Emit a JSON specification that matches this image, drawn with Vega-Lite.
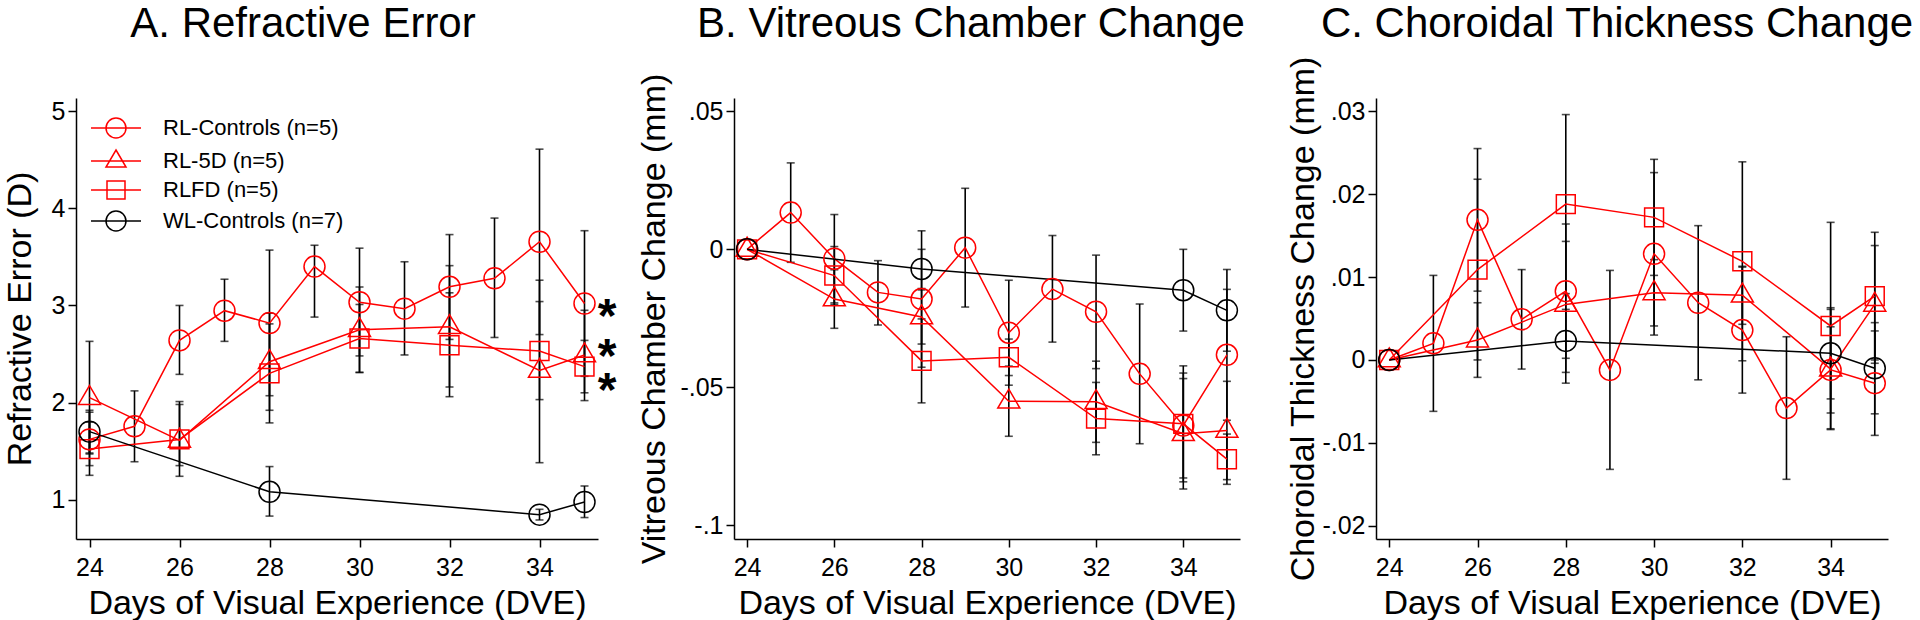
{
  "$schema": "https://vega.github.io/schema/vega-lite/v6.json",
  "background": "white",
  "padding": {"left": 3, "top": 2, "right": 8, "bottom": 0},
  "bounds": "flush",
  "spacing": 136,
  "config": {
    "view": {"stroke": null},
    "font": "Liberation Sans",
    "axis": {"grid": false, "domainColor": "black", "domainWidth": 1.5, "tickColor": "black", "tickWidth": 1.5, "tickSize": 8, "labelFont": "Liberation Sans", "labelFontSize": 25, "labelColor": "black", "labelPadding": 3, "labelFlush": false, "labelOverlap": false, "titleFont": "Liberation Sans", "titleFontSize": 34, "titleFontWeight": "normal", "titleColor": "black"},
    "axisX": {"labelPadding": 8, "titlePadding": 6},
    "title": {"font": "Liberation Sans", "fontSize": 42, "fontWeight": "normal", "color": "black", "anchor": "middle", "frame": "group"}
  },
  "datasets": {
    "A": [
      {"group": "RL-Controls (n=5)", "day": 24, "value": 1.62, "lo": 1.35, "hi": 1.90},
      {"group": "RL-Controls (n=5)", "day": 25, "value": 1.755, "lo": 1.39, "hi": 2.12},
      {"group": "RL-Controls (n=5)", "day": 26, "value": 2.64, "lo": 2.29, "hi": 3.0},
      {"group": "RL-Controls (n=5)", "day": 27, "value": 2.946, "lo": 2.63, "hi": 3.27},
      {"group": "RL-Controls (n=5)", "day": 28, "value": 2.818, "lo": 2.07, "hi": 3.57},
      {"group": "RL-Controls (n=5)", "day": 29, "value": 3.40, "lo": 2.88, "hi": 3.62},
      {"group": "RL-Controls (n=5)", "day": 30, "value": 3.033, "lo": 2.48, "hi": 3.59},
      {"group": "RL-Controls (n=5)", "day": 31, "value": 2.967, "lo": 2.49, "hi": 3.45},
      {"group": "RL-Controls (n=5)", "day": 32, "value": 3.192, "lo": 2.65, "hi": 3.73},
      {"group": "RL-Controls (n=5)", "day": 33, "value": 3.279, "lo": 2.67, "hi": 3.90},
      {"group": "RL-Controls (n=5)", "day": 34, "value": 3.656, "lo": 2.70, "hi": 4.61},
      {"group": "RL-Controls (n=5)", "day": 35, "value": 3.02, "lo": 2.27, "hi": 3.77},
      {"group": "RL-5D (n=5)", "day": 24, "value": 2.05, "lo": 1.47, "hi": 2.63},
      {"group": "RL-5D (n=5)", "day": 26, "value": 1.61, "lo": 1.24, "hi": 1.98},
      {"group": "RL-5D (n=5)", "day": 28, "value": 2.42, "lo": 1.92, "hi": 2.92},
      {"group": "RL-5D (n=5)", "day": 30, "value": 2.75, "lo": 2.31, "hi": 3.19},
      {"group": "RL-5D (n=5)", "day": 32, "value": 2.78, "lo": 2.16, "hi": 3.41},
      {"group": "RL-5D (n=5)", "day": 34, "value": 2.33, "lo": 1.38, "hi": 3.26},
      {"group": "RL-5D (n=5)", "day": 35, "value": 2.49, "lo": 2.02, "hi": 2.95},
      {"group": "RLFD (n=5)", "day": 24, "value": 1.52, "lo": 1.25, "hi": 1.80},
      {"group": "RLFD (n=5)", "day": 26, "value": 1.62, "lo": 1.35, "hi": 2.01},
      {"group": "RLFD (n=5)", "day": 28, "value": 2.30, "lo": 1.79, "hi": 2.81},
      {"group": "RLFD (n=5)", "day": 30, "value": 2.66, "lo": 2.31, "hi": 3.01},
      {"group": "RLFD (n=5)", "day": 32, "value": 2.59, "lo": 2.06, "hi": 3.13},
      {"group": "RLFD (n=5)", "day": 34, "value": 2.53, "lo": 2.03, "hi": 3.04},
      {"group": "RLFD (n=5)", "day": 35, "value": 2.37, "lo": 2.10, "hi": 2.64},
      {"group": "WL-Controls (n=7)", "day": 24, "value": 1.70, "lo": 1.48, "hi": 1.92},
      {"group": "WL-Controls (n=7)", "day": 28, "value": 1.08, "lo": 0.83, "hi": 1.34},
      {"group": "WL-Controls (n=7)", "day": 34, "value": 0.845, "lo": 0.79, "hi": 0.90},
      {"group": "WL-Controls (n=7)", "day": 35, "value": 0.975, "lo": 0.815, "hi": 1.14}
    ],
    "B": [
      {"group": "RL-Controls (n=5)", "day": 24, "value": 0, "lo": null, "hi": null},
      {"group": "RL-Controls (n=5)", "day": 25, "value": 0.0133, "lo": -0.0047, "hi": 0.0313},
      {"group": "RL-Controls (n=5)", "day": 26, "value": -0.0034, "lo": -0.0194, "hi": 0.0126},
      {"group": "RL-Controls (n=5)", "day": 27, "value": -0.0156, "lo": -0.0274, "hi": -0.0041},
      {"group": "RL-Controls (n=5)", "day": 28, "value": -0.018, "lo": -0.0427, "hi": 0.0067},
      {"group": "RL-Controls (n=5)", "day": 29, "value": 0.0006, "lo": -0.0209, "hi": 0.0221},
      {"group": "RL-Controls (n=5)", "day": 30, "value": -0.0302, "lo": -0.0492, "hi": -0.0112},
      {"group": "RL-Controls (n=5)", "day": 31, "value": -0.0144, "lo": -0.0336, "hi": 0.0050},
      {"group": "RL-Controls (n=5)", "day": 32, "value": -0.0226, "lo": -0.0432, "hi": -0.0021},
      {"group": "RL-Controls (n=5)", "day": 33, "value": -0.0451, "lo": -0.0704, "hi": -0.0198},
      {"group": "RL-Controls (n=5)", "day": 34, "value": -0.0638, "lo": -0.0828, "hi": -0.0448},
      {"group": "RL-Controls (n=5)", "day": 35, "value": -0.0382, "lo": -0.0619, "hi": -0.0145},
      {"group": "RL-5D (n=5)", "day": 24, "value": 0, "lo": null, "hi": null},
      {"group": "RL-5D (n=5)", "day": 26, "value": -0.018, "lo": -0.0286, "hi": -0.0074},
      {"group": "RL-5D (n=5)", "day": 28, "value": -0.0245, "lo": -0.0343, "hi": -0.0147},
      {"group": "RL-5D (n=5)", "day": 30, "value": -0.055, "lo": -0.0677, "hi": -0.0423},
      {"group": "RL-5D (n=5)", "day": 32, "value": -0.0552, "lo": -0.0699, "hi": -0.0405},
      {"group": "RL-5D (n=5)", "day": 34, "value": -0.0668, "lo": -0.0868, "hi": -0.0468},
      {"group": "RL-5D (n=5)", "day": 35, "value": -0.0656, "lo": -0.0834, "hi": -0.0478},
      {"group": "RLFD (n=5)", "day": 24, "value": 0, "lo": null, "hi": null},
      {"group": "RLFD (n=5)", "day": 26, "value": -0.0095, "lo": -0.0200, "hi": 0.0010},
      {"group": "RLFD (n=5)", "day": 28, "value": -0.0404, "lo": -0.0556, "hi": -0.0252},
      {"group": "RLFD (n=5)", "day": 30, "value": -0.0391, "lo": -0.0457, "hi": -0.0325},
      {"group": "RLFD (n=5)", "day": 32, "value": -0.0613, "lo": -0.0744, "hi": -0.0482},
      {"group": "RLFD (n=5)", "day": 34, "value": -0.0632, "lo": -0.0842, "hi": -0.0422},
      {"group": "RLFD (n=5)", "day": 35, "value": -0.076, "lo": -0.0851, "hi": -0.0669},
      {"group": "WL-Controls (n=7)", "day": 24, "value": 0, "lo": null, "hi": null},
      {"group": "WL-Controls (n=7)", "day": 28, "value": -0.0071, "lo": -0.0142, "hi": 0.0},
      {"group": "WL-Controls (n=7)", "day": 34, "value": -0.0148, "lo": -0.0296, "hi": 0.0},
      {"group": "WL-Controls (n=7)", "day": 35, "value": -0.0221, "lo": -0.0369, "hi": -0.0073}
    ],
    "C": [
      {"group": "RL-Controls (n=5)", "day": 24, "value": 0, "lo": null, "hi": null},
      {"group": "RL-Controls (n=5)", "day": 25, "value": 0.0020, "lo": -0.0062, "hi": 0.0102},
      {"group": "RL-Controls (n=5)", "day": 26, "value": 0.0169, "lo": 0.0083, "hi": 0.0255},
      {"group": "RL-Controls (n=5)", "day": 27, "value": 0.0049, "lo": -0.0011, "hi": 0.0109},
      {"group": "RL-Controls (n=5)", "day": 28, "value": 0.0083, "lo": 0.0002, "hi": 0.0164},
      {"group": "RL-Controls (n=5)", "day": 29, "value": -0.0012, "lo": -0.0132, "hi": 0.0108},
      {"group": "RL-Controls (n=5)", "day": 30, "value": 0.0128, "lo": 0.0030, "hi": 0.0226},
      {"group": "RL-Controls (n=5)", "day": 31, "value": 0.0069, "lo": -0.0024, "hi": 0.0162},
      {"group": "RL-Controls (n=5)", "day": 32, "value": 0.0036, "lo": -0.0040, "hi": 0.0112},
      {"group": "RL-Controls (n=5)", "day": 33, "value": -0.0058, "lo": -0.0144, "hi": 0.0028},
      {"group": "RL-Controls (n=5)", "day": 34, "value": -0.0012, "lo": -0.0064, "hi": 0.0040},
      {"group": "RL-Controls (n=5)", "day": 35, "value": -0.0028, "lo": -0.0091, "hi": 0.0035},
      {"group": "RL-5D (n=5)", "day": 24, "value": 0, "lo": null, "hi": null},
      {"group": "RL-5D (n=5)", "day": 26, "value": 0.0024, "lo": -0.0021, "hi": 0.0069},
      {"group": "RL-5D (n=5)", "day": 28, "value": 0.0067, "lo": -0.0028, "hi": 0.0143},
      {"group": "RL-5D (n=5)", "day": 30, "value": 0.0081, "lo": 0.0041, "hi": 0.0121},
      {"group": "RL-5D (n=5)", "day": 32, "value": 0.0078, "lo": 0.0043, "hi": 0.0113},
      {"group": "RL-5D (n=5)", "day": 34, "value": -0.0011, "lo": -0.0083, "hi": 0.0061},
      {"group": "RL-5D (n=5)", "day": 35, "value": 0.0067, "lo": -0.0004, "hi": 0.0138},
      {"group": "RLFD (n=5)", "day": 24, "value": 0, "lo": null, "hi": null},
      {"group": "RLFD (n=5)", "day": 26, "value": 0.0109, "lo": 0.0000, "hi": 0.0218},
      {"group": "RLFD (n=5)", "day": 28, "value": 0.0188, "lo": 0.0080, "hi": 0.0296},
      {"group": "RLFD (n=5)", "day": 30, "value": 0.0172, "lo": 0.0102, "hi": 0.0242},
      {"group": "RLFD (n=5)", "day": 32, "value": 0.0119, "lo": -0.0001, "hi": 0.0239},
      {"group": "RLFD (n=5)", "day": 34, "value": 0.0041, "lo": -0.0084, "hi": 0.0166},
      {"group": "RLFD (n=5)", "day": 35, "value": 0.0077, "lo": 0.0000, "hi": 0.0154},
      {"group": "WL-Controls (n=7)", "day": 24, "value": 0, "lo": null, "hi": null},
      {"group": "WL-Controls (n=7)", "day": 28, "value": 0.0023, "lo": -0.0015, "hi": 0.0061},
      {"group": "WL-Controls (n=7)", "day": 34, "value": 0.0008, "lo": -0.0047, "hi": 0.0063},
      {"group": "WL-Controls (n=7)", "day": 35, "value": -0.0010, "lo": -0.0065, "hi": 0.0045}
    ],
    "stars": [
      {"day": 35.5, "value": 3.01, "label": "*"},
      {"day": 35.5, "value": 2.6, "label": "*"},
      {"day": 35.5, "value": 2.25, "label": "*"}
    ]
  },
  "hconcat": [
    {
      "width": 522,
      "height": 441,
      "title": {"text": "A. Refractive Error", "dx": -34, "offset": 52},
      "resolve": {"scale": {"color": "independent", "shape": "independent"}},
      "layer": [
        {
          "data": {"name": "A"},
          "transform": [{"filter": "datum.lo != null"}],
          "mark": {"type": "errorbar", "color": "black", "thickness": 1.6, "ticks": {"size": 8}},
          "encoding": {
            "x": {"field": "day", "type": "quantitative", "scale": {"domain": [23.7, 35.3], "nice": false, "zero": false}, "axis": {"title": "Days of Visual Experience (DVE)", "values": [24, 26, 28, 30, 32, 34]}},
            "y": {"field": "lo", "type": "quantitative", "scale": {"domain": [0.594, 5.137], "nice": false, "zero": false}, "axis": {"title": "Refractive Error (D)", "values": [1, 2, 3, 4, 5], "titlePadding": 14}},
            "y2": {"field": "hi"}
          }
        },
        {
          "data": {"name": "A"},
          "mark": {"type": "line", "strokeWidth": 1.5},
          "encoding": {
            "x": {"field": "day", "type": "quantitative", "scale": {"domain": [23.7, 35.3], "nice": false, "zero": false}, "axis": {"title": "Days of Visual Experience (DVE)", "values": [24, 26, 28, 30, 32, 34]}},
            "y": {"field": "value", "type": "quantitative", "scale": {"domain": [0.594, 5.137], "nice": false, "zero": false}, "axis": {"title": "Refractive Error (D)", "values": [1, 2, 3, 4, 5], "titlePadding": 14}},
            "color": {"field": "group", "type": "nominal", "scale": {"domain": ["RL-Controls (n=5)", "RL-5D (n=5)", "RLFD (n=5)", "WL-Controls (n=7)"], "range": ["#ff0000", "#ff0000", "#ff0000", "#000000"]}, "legend": null}
          }
        },
        {
          "data": {"name": "A"},
          "mark": {"type": "point", "filled": false, "size": 441, "strokeWidth": 1.5, "opacity": 1},
          "encoding": {
            "x": {"field": "day", "type": "quantitative", "scale": {"domain": [23.7, 35.3], "nice": false, "zero": false}, "axis": {"title": "Days of Visual Experience (DVE)", "values": [24, 26, 28, 30, 32, 34]}},
            "y": {"field": "value", "type": "quantitative", "scale": {"domain": [0.594, 5.137], "nice": false, "zero": false}, "axis": {"title": "Refractive Error (D)", "values": [1, 2, 3, 4, 5], "titlePadding": 14}},
            "color": {"field": "group", "type": "nominal", "scale": {"domain": ["RL-Controls (n=5)", "RL-5D (n=5)", "RLFD (n=5)", "WL-Controls (n=7)"], "range": ["#ff0000", "#ff0000", "#ff0000", "#000000"]}, "legend": null},
            "shape": {"field": "group", "type": "nominal", "scale": {"domain": ["RL-Controls (n=5)", "RL-5D (n=5)", "RLFD (n=5)", "WL-Controls (n=7)"], "range": ["M1,0A1,1,0,1,1,-1,0A1,1,0,1,1,1,0Z", "M0,-1.15L1.05,0.65L-1.05,0.65Z", "M-0.9,-0.9L0.9,-0.9L0.9,0.9L-0.9,0.9Z", "M1,0A1,1,0,1,1,-1,0A1,1,0,1,1,1,0Z"]}, "legend": null}
          }
        },
        {
          "data": {"name": "A"},
          "transform": [{"filter": "false"}],
          "mark": {"type": "point", "filled": false, "strokeWidth": 1.5, "opacity": 1},
          "encoding": {
            "x": {"field": "day", "type": "quantitative", "scale": {"domain": [23.7, 35.3], "nice": false, "zero": false}, "axis": {"title": "Days of Visual Experience (DVE)", "values": [24, 26, 28, 30, 32, 34]}},
            "y": {"field": "value", "type": "quantitative", "scale": {"domain": [0.594, 5.137], "nice": false, "zero": false}, "axis": {"title": "Refractive Error (D)", "values": [1, 2, 3, 4, 5], "titlePadding": 14}},
            "color": {"field": "group", "type": "nominal", "scale": {"domain": ["RL-Controls (n=5)", "RL-5D (n=5)", "RLFD (n=5)", "WL-Controls (n=7)"], "range": ["#ff0000", "#ff0000", "#ff0000", "#000000"]}, "legend": {"title": null, "orient": "none", "legendX": 29, "legendY": 19, "padding": 0, "labelFont": "Liberation Sans", "labelFontSize": 22, "labelColor": "black", "labelLimit": 400, "labelOffset": 36, "symbolSize": 400, "symbolStrokeWidth": 1.5, "rowPadding": 6}},
            "shape": {"field": "group", "type": "nominal", "scale": {"domain": ["RL-Controls (n=5)", "RL-5D (n=5)", "RLFD (n=5)", "WL-Controls (n=7)"], "range": ["M-2.5,0L2.5,0M1,0A1,1,0,1,1,-1,0A1,1,0,1,1,1,0Z", "M-2.5,0L2.5,0M0,-1.1L1,0.6L-1,0.6Z", "M-2.5,0L2.5,0M-0.9,-0.9L0.9,-0.9L0.9,0.9L-0.9,0.9Z", "M-2.5,0L2.5,0M1,0A1,1,0,1,1,-1,0A1,1,0,1,1,1,0Z"]}, "legend": {"title": null, "orient": "none", "legendX": 29, "legendY": 19, "padding": 0, "labelFont": "Liberation Sans", "labelFontSize": 22, "labelColor": "black", "labelLimit": 400, "labelOffset": 36, "symbolSize": 400, "symbolStrokeWidth": 1.5, "rowPadding": 6}}
          }
        },
        {
          "data": {"name": "stars"},
          "mark": {"type": "text", "font": "Liberation Sans", "fontSize": 48, "fontWeight": "bold", "color": "black", "align": "center", "baseline": "alphabetic", "dy": 28},
          "encoding": {
            "x": {"field": "day", "type": "quantitative", "scale": {"domain": [23.7, 35.3], "nice": false, "zero": false}, "axis": {"title": "Days of Visual Experience (DVE)", "values": [24, 26, 28, 30, 32, 34]}},
            "y": {"field": "value", "type": "quantitative", "scale": {"domain": [0.594, 5.137], "nice": false, "zero": false}, "axis": {"title": "Refractive Error (D)", "values": [1, 2, 3, 4, 5], "titlePadding": 14}},
            "text": {"field": "label", "type": "nominal"}
          }
        }
      ]
    },
    {
      "width": 506,
      "height": 441,
      "title": {"text": "B. Vitreous Chamber Change", "dx": -16, "offset": 27},
      "data": {"name": "B"},
      "encoding": {
        "x": {"field": "day", "type": "quantitative", "scale": {"domain": [23.7, 35.3], "nice": false, "zero": false}, "axis": {"title": "Days of Visual Experience (DVE)", "values": [24, 26, 28, 30, 32, 34]}}
      },
      "layer": [
        {
          "transform": [{"filter": "datum.lo != null"}],
          "mark": {"type": "errorbar", "color": "black", "thickness": 1.6, "ticks": {"size": 8}},
          "encoding": {
            "y": {"field": "lo", "type": "quantitative", "scale": {"domain": [-0.1049, 0.0548], "nice": false, "zero": false}, "axis": {"title": "Vitreous Chamber Change (mm)", "values": [-0.1, -0.05, 0, 0.05], "titlePadding": 8, "labelExpr": "datum.value == 0 ? '0' : (datum.value < 0 ? '-' : '') + replace(toString(abs(datum.value)), '0.', '.')"}},
            "y2": {"field": "hi"}
          }
        },
        {
          "mark": {"type": "line", "strokeWidth": 1.5},
          "encoding": {
            "y": {"field": "value", "type": "quantitative", "scale": {"domain": [-0.1049, 0.0548], "nice": false, "zero": false}, "axis": {"title": "Vitreous Chamber Change (mm)", "values": [-0.1, -0.05, 0, 0.05], "titlePadding": 8, "labelExpr": "datum.value == 0 ? '0' : (datum.value < 0 ? '-' : '') + replace(toString(abs(datum.value)), '0.', '.')"}},
            "color": {"field": "group", "type": "nominal", "scale": {"domain": ["RL-Controls (n=5)", "RL-5D (n=5)", "RLFD (n=5)", "WL-Controls (n=7)"], "range": ["#ff0000", "#ff0000", "#ff0000", "#000000"]}, "legend": null}
          }
        },
        {
          "mark": {"type": "point", "filled": false, "size": 441, "strokeWidth": 1.5, "opacity": 1},
          "encoding": {
            "y": {"field": "value", "type": "quantitative", "scale": {"domain": [-0.1049, 0.0548], "nice": false, "zero": false}, "axis": {"title": "Vitreous Chamber Change (mm)", "values": [-0.1, -0.05, 0, 0.05], "titlePadding": 8, "labelExpr": "datum.value == 0 ? '0' : (datum.value < 0 ? '-' : '') + replace(toString(abs(datum.value)), '0.', '.')"}},
            "color": {"field": "group", "type": "nominal", "scale": {"domain": ["RL-Controls (n=5)", "RL-5D (n=5)", "RLFD (n=5)", "WL-Controls (n=7)"], "range": ["#ff0000", "#ff0000", "#ff0000", "#000000"]}, "legend": null},
            "shape": {"field": "group", "type": "nominal", "scale": {"domain": ["RL-Controls (n=5)", "RL-5D (n=5)", "RLFD (n=5)", "WL-Controls (n=7)"], "range": ["M1,0A1,1,0,1,1,-1,0A1,1,0,1,1,1,0Z", "M0,-1.15L1.05,0.65L-1.05,0.65Z", "M-0.9,-0.9L0.9,-0.9L0.9,0.9L-0.9,0.9Z", "M1,0A1,1,0,1,1,-1,0A1,1,0,1,1,1,0Z"]}, "legend": null}
          }
        }
      ]
    },
    {
      "width": 512,
      "height": 441,
      "title": {"text": "C. Choroidal Thickness Change", "dx": -15, "offset": 10},
      "data": {"name": "C"},
      "encoding": {
        "x": {"field": "day", "type": "quantitative", "scale": {"domain": [23.7, 35.3], "nice": false, "zero": false}, "axis": {"title": "Days of Visual Experience (DVE)", "values": [24, 26, 28, 30, 32, 34]}}
      },
      "layer": [
        {
          "transform": [{"filter": "datum.lo != null"}],
          "mark": {"type": "errorbar", "color": "black", "thickness": 1.6, "ticks": {"size": 8}},
          "encoding": {
            "y": {"field": "lo", "type": "quantitative", "scale": {"domain": [-0.0216, 0.0316], "nice": false, "zero": false}, "axis": {"title": "Choroidal Thickness Change (mm)", "values": [-0.02, -0.01, 0, 0.01, 0.02, 0.03], "titlePadding": 1, "labelExpr": "datum.value == 0 ? '0' : (datum.value < 0 ? '-' : '') + replace(toString(abs(datum.value)), '0.', '.')"}},
            "y2": {"field": "hi"}
          }
        },
        {
          "mark": {"type": "line", "strokeWidth": 1.5},
          "encoding": {
            "y": {"field": "value", "type": "quantitative", "scale": {"domain": [-0.0216, 0.0316], "nice": false, "zero": false}, "axis": {"title": "Choroidal Thickness Change (mm)", "values": [-0.02, -0.01, 0, 0.01, 0.02, 0.03], "titlePadding": 1, "labelExpr": "datum.value == 0 ? '0' : (datum.value < 0 ? '-' : '') + replace(toString(abs(datum.value)), '0.', '.')"}},
            "color": {"field": "group", "type": "nominal", "scale": {"domain": ["RL-Controls (n=5)", "RL-5D (n=5)", "RLFD (n=5)", "WL-Controls (n=7)"], "range": ["#ff0000", "#ff0000", "#ff0000", "#000000"]}, "legend": null}
          }
        },
        {
          "mark": {"type": "point", "filled": false, "size": 441, "strokeWidth": 1.5, "opacity": 1},
          "encoding": {
            "y": {"field": "value", "type": "quantitative", "scale": {"domain": [-0.0216, 0.0316], "nice": false, "zero": false}, "axis": {"title": "Choroidal Thickness Change (mm)", "values": [-0.02, -0.01, 0, 0.01, 0.02, 0.03], "titlePadding": 1, "labelExpr": "datum.value == 0 ? '0' : (datum.value < 0 ? '-' : '') + replace(toString(abs(datum.value)), '0.', '.')"}},
            "color": {"field": "group", "type": "nominal", "scale": {"domain": ["RL-Controls (n=5)", "RL-5D (n=5)", "RLFD (n=5)", "WL-Controls (n=7)"], "range": ["#ff0000", "#ff0000", "#ff0000", "#000000"]}, "legend": null},
            "shape": {"field": "group", "type": "nominal", "scale": {"domain": ["RL-Controls (n=5)", "RL-5D (n=5)", "RLFD (n=5)", "WL-Controls (n=7)"], "range": ["M1,0A1,1,0,1,1,-1,0A1,1,0,1,1,1,0Z", "M0,-1.15L1.05,0.65L-1.05,0.65Z", "M-0.9,-0.9L0.9,-0.9L0.9,0.9L-0.9,0.9Z", "M1,0A1,1,0,1,1,-1,0A1,1,0,1,1,1,0Z"]}, "legend": null}
          }
        }
      ]
    }
  ]
}
